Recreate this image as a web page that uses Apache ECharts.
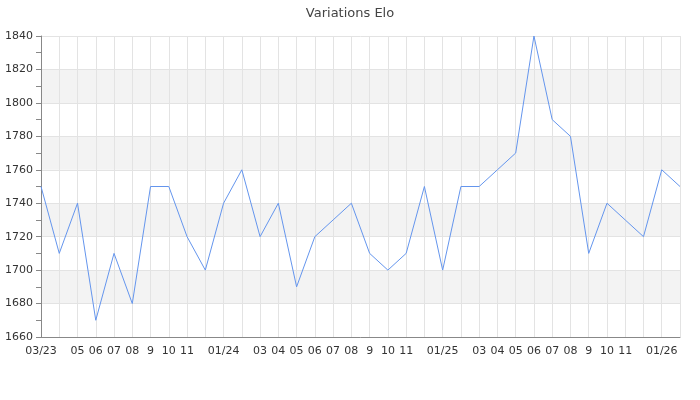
<!DOCTYPE html>
<html>
<head>
<meta charset="utf-8">
<script src="https://cdn.jsdelivr.net/npm/echarts@6/dist/echarts.min.js"></script>
<style>html,body{margin:0;padding:0;background:#fff}#c{width:700px;height:400px}</style>
</head>
<body>
<div id="c"></div>
<script>
const categories = ['03/23','04/23','05/23','06/23','07/23','08/23','09/23','10/23','11/23','12/23',
  '01/24','02/24','03/24','04/24','05/24','06/24','07/24','08/24','09/24','10/24','11/24','12/24',
  '01/25','02/25','03/25','04/25','05/25','06/25','07/25','08/25','09/25','10/25','11/25','12/25',
  '01/26','02/26'];
const tickLabels = ['03/23','','05','06','07','08','9','10','11','',
  '01/24','','03','04','05','06','07','08','9','10','11','',
  '01/25','','03','04','05','06','07','08','9','10','11','',
  '01/26',''];
const elo = [1750,1710,1740,1670,1710,1680,1750,1750,1720,1700,
  1740,1760,1720,1740,1690,1720,1730,1740,1710,1700,1710,1750,
  1700,1750,1750,1760,1770,1840,1790,1780,1710,1740,1730,1720,
  1760,1750];

const chart = echarts.init(document.getElementById('c'));
chart.setOption({
  animation: false,
  textStyle: { fontFamily: 'DejaVu Sans' },
  title: {
    text: 'Variations Elo', left: 'center', top: 2,
    textStyle: { fontSize: 13, fontWeight: 'normal', color: '#444', fontFamily: 'DejaVu Sans' }
  },
  grid: { left: 41, right: 20, top: 36, bottom: 63 },
  xAxis: {
    type: 'category',
    data: categories,
    boundaryGap: false,
    axisLine: { lineStyle: { color: '#888' } },
    axisTick: { show: false },
    axisLabel: {
      interval: 0, color: '#333', fontSize: 11, margin: 9,
      formatter: (v, i) => tickLabels[i]
    },
    splitLine: { show: true, lineStyle: { color: '#e3e3e3', width: 1 } }
  },
  yAxis: {
    type: 'value',
    min: 1660, max: 1840, interval: 20,
    axisLine: { show: true, lineStyle: { color: '#888' } },
    axisTick: { show: true, length: 5, lineStyle: { color: '#888' } },
    minorTick: { show: true, splitNumber: 2, length: 5, lineStyle: { color: '#888' } },
    axisLabel: { color: '#333', fontSize: 11, margin: 8, formatter: v => String(v) },
    splitLine: { show: true, lineStyle: { color: '#e3e3e3' } },
    splitArea: { show: true, areaStyle: { color: ['#ffffff', '#f3f3f3'] } }
  },
  series: [{
    type: 'line',
    data: elo,
    showSymbol: false,
    symbol: 'none',
    lineStyle: { color: '#6495ED', width: 1 }
  }]
});
</script>
</body>
</html>
